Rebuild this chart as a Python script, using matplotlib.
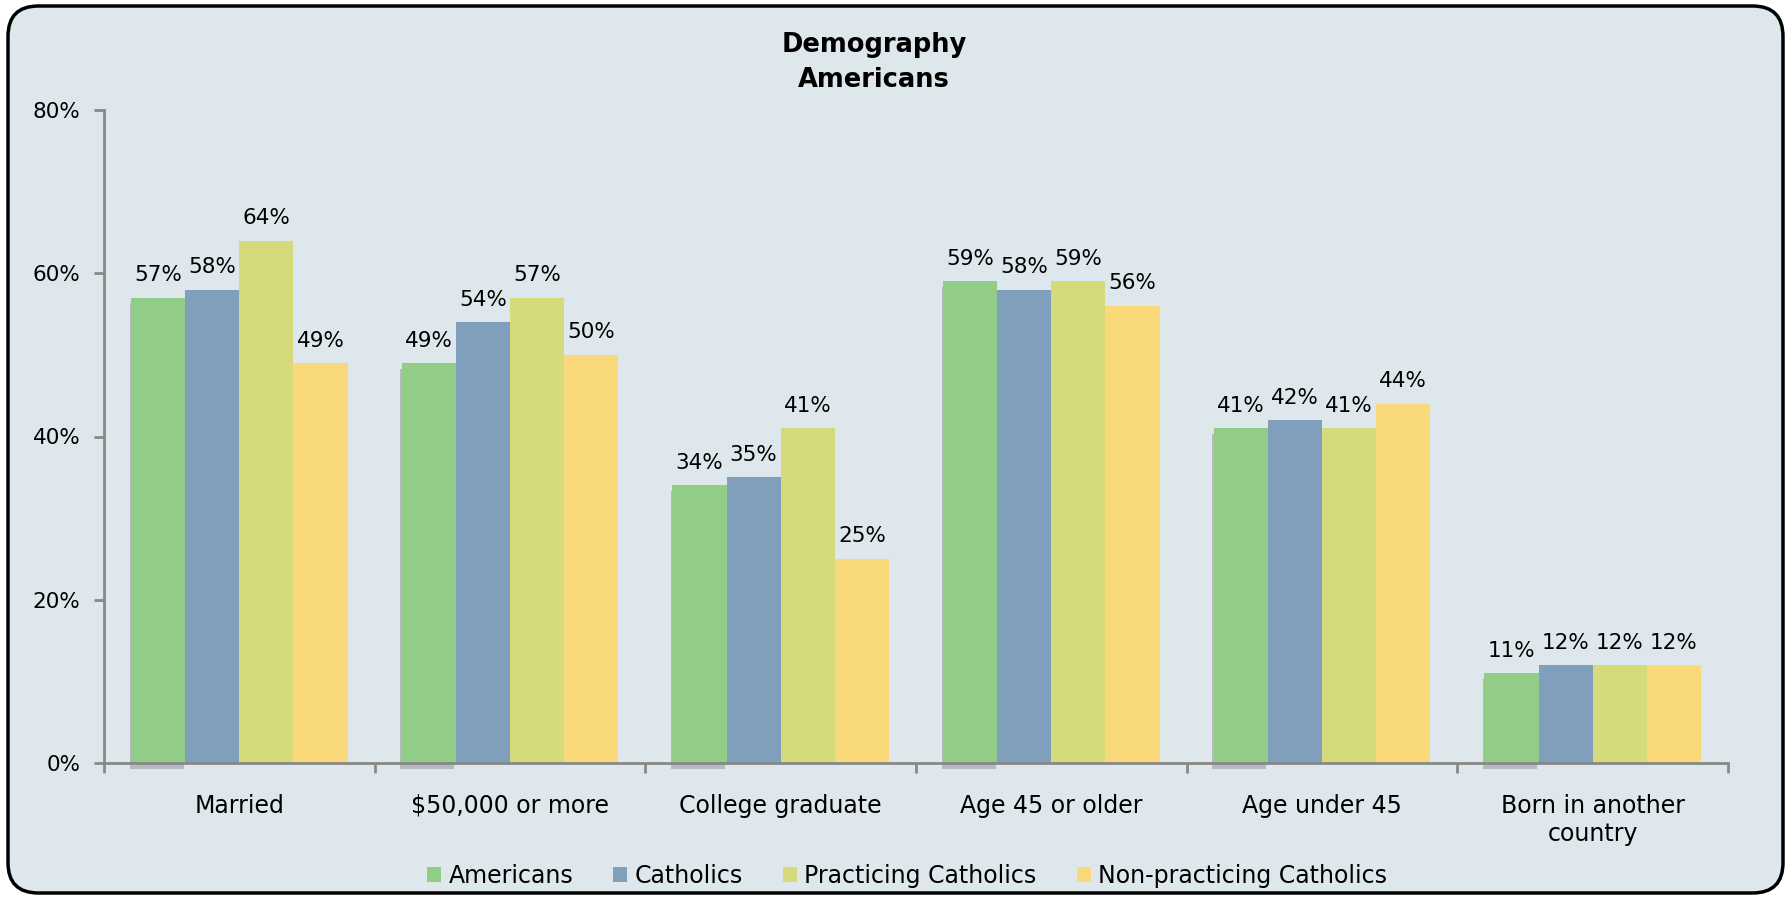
import matplotlib
matplotlib.use("Agg")
import matplotlib.pyplot as plt
import matplotlib.patheffects as pe
from matplotlib.patches import FancyBboxPatch, Patch
import numpy as np

categories = ["Married", "$50,000 or more", "College graduate", "Age 45 or older",
              "Age under 45", "Born in another\ncountry"]
series_names = ["Americans", "Catholics", "Practicing Catholics", "Non-practicing Catholics"]
americans = [57, 49, 34, 59, 41, 11]
catholics = [58, 54, 35, 58, 42, 12]
practicing = [64, 57, 41, 59, 41, 12]
non_practicing = [49, 50, 25, 56, 44, 12]
yticks = [0, 20, 40, 60, 80]

colors = ["#92CD87", "#7F9FBC", "#D5DA7B", "#FAD97B"]
bg = "#DEE8EC"

plt.rcParams['font.family'] = ['DejaVu Sans']
W, H = 1791, 899
fig = plt.figure(figsize=(W/100, H/100), dpi=100)
fig.patch.set_facecolor("white")

# rounded frame
frame = FancyBboxPatch((8/W, 6/H), (W-16)/W, (H-12)/H,
                       boxstyle="round,pad=0,rounding_size=0.017",
                       transform=fig.transFigure, facecolor=bg, edgecolor="black",
                       linewidth=2.5, mutation_aspect=W/H, zorder=-10)
fig.patches.append(frame)

ax = fig.add_axes([104/W, 1-763/H, (1728-104)/W, (763-110)/H])
ax.set_zorder(2)
ax.set_facecolor("none")

data = [americans, catholics, practicing, non_practicing]
x = np.arange(len(categories))
bw = 0.2
for i, (vals, name) in enumerate(zip(data, series_names)):
    pos = x - 0.3 + i*bw
    bars = ax.bar(pos, vals, width=bw, color=colors[i], zorder=3, clip_on=False)
    if i == 0:
        for b in bars:
            b.set_path_effects([pe.SimplePatchShadow(offset=(-1, -4), shadow_rgbFace="#666666", alpha=0.35), pe.Normal()])
    for p, v in zip(pos, vals):
        ax.annotate(f"{v}%", (p, v), xytext=(0, 9), textcoords="offset points",
                    ha="center", va="bottom", fontsize=15.5, color="black", zorder=5)

ax.set_ylim(0, 80)
ax.set_xlim(-0.5, len(categories) - 0.5)
ax.set_yticks(yticks)
ax.set_yticklabels([f"{t}%" for t in yticks], fontsize=15.5)
ax.set_xticks(x)
ax.set_xticklabels(categories, fontsize=17, linespacing=1.25)
ax.set_xticks(np.arange(-0.5, len(categories)), minor=True)
ax.tick_params(axis="x", which="major", length=0, pad=22)
ax.tick_params(axis="x", which="minor", length=7, width=2, color="#888888", direction="out")
ax.tick_params(axis="y", length=7, width=2, color="#888888", pad=10)
for s in ["top", "right"]:
    ax.spines[s].set_visible(False)
for s in ["left", "bottom"]:
    ax.spines[s].set_color("#888888")
    ax.spines[s].set_linewidth(2)
    ax.spines[s].set_zorder(4)

fig.text(874/W, 1-45/H, "Demography", ha="center", va="center", fontsize=18.5, fontweight="bold")
fig.text(874/W, 1-80/H, "Americans", ha="center", va="center", fontsize=18.5, fontweight="bold")

handles = [Patch(facecolor=c, edgecolor="none") for c in colors]
leg = fig.legend(handles, series_names, loc="center", bbox_to_anchor=(907/W, 1-876/H), ncol=4,
                 frameon=False, fontsize=17, handlelength=0.6, handleheight=0.6,
                 handletextpad=0.3, columnspacing=1.7)

fig.savefig("out.png", dpi=100, facecolor=fig.get_facecolor())
